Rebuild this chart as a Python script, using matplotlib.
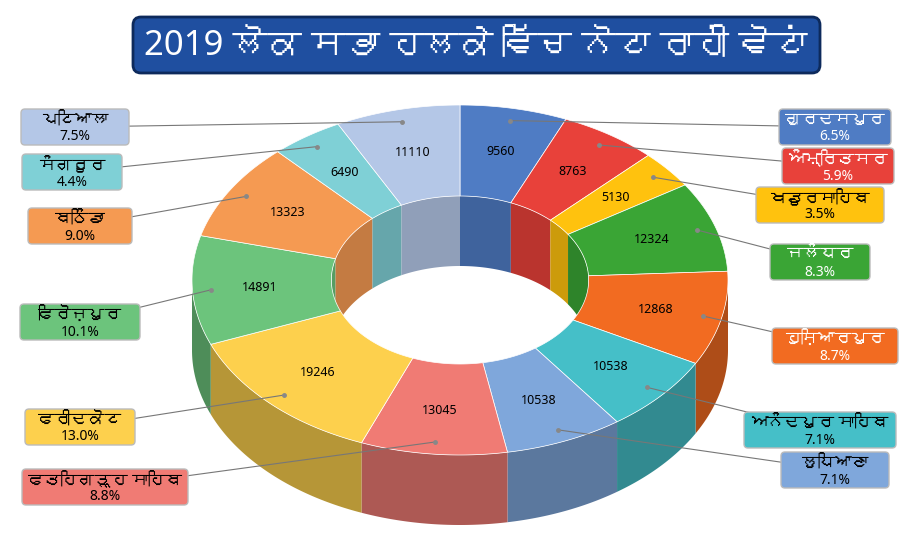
import numpy as np
import matplotlib.pyplot as plt
from matplotlib.patches import Polygon, FancyBboxPatch
import matplotlib.colors as mcolors
from matplotlib import font_manager
from matplotlib.ft2font import FT2Font

# look for any installed family that has Gurmukhi glyphs
gurmukhi = []
for f in font_manager.fontManager.ttflist:
    try:
        if 0x0A05 in FT2Font(f.fname).get_charmap() and f.name not in gurmukhi:
            gurmukhi.append(f.name)
    except Exception:
        pass
plt.rcParams['font.family'] = ['Noto Sans'] + gurmukhi + ['DejaVu Sans']

title = "2019 ਲੋਕ ਸਭਾ ਹਲਕੇ ਵਿੱਚ ਨੋਟਾ ਰਾਹੀਂ ਵੋਟਾਂ"
names = ["ਗੁਰਦਸਪੁਰ", "ਅੰਮ੍ਰਿਤਸਰ", "ਖਡੂਰਸਾਹਿਬ", "ਜਲੰਧਰ", "ਹੁਸ਼ਿਆਰਪੁਰ", "ਅਨੰਦਪੁਰ ਸਾਹਿਬ",
         "ਲੁਧਿਆਣਾ", "ਫਤਹਿਗੜ੍ਹ ਸਾਹਿਬ", "ਫਰੀਦਕੋਟ", "ਫਿਰੋਜ਼ਪੁਰ", "ਬਠਿੰਡਾ", "ਸੰਗਰੂਰ", "ਪਟਿਆਲਾ"]
votes = [9560, 8763, 5130, 12324, 12868, 10538, 10538, 13045, 19246, 14891, 13323, 6490, 11110]
percents = ["6.5%", "5.9%", "3.5%", "8.3%", "8.7%", "7.1%", "7.1%", "8.8%", "13.0%", "10.1%", "9.0%", "4.4%", "7.5%"]
colors = ["#4f7cc4", "#e8413a", "#ffc20e", "#3aa535", "#f26b21", "#45bfc8", "#7fa7db",
          "#f07b74", "#fdd04d", "#6cc47c", "#f59a52", "#7fd0d6", "#b4c7e7"]
# label box centres and widths (pixels)
box_pos = [(835, 127), (838, 166), (820, 205), (820, 262), (835, 346), (820, 430), (835, 470),
           (105, 487), (80, 427), (80, 322), (80, 226), (72, 172), (75, 127)]
box_w = [112, 112, 128, 100, 126, 152, 108, 166, 110, 120, 104, 100, 108]

W, H = 921, 553
fig = plt.figure(figsize=(W / 100, H / 100), dpi=100)
ax = fig.add_axes([0, 0, 1, 1])
ax.set_xlim(0, W)
ax.set_ylim(H, 0)
ax.axis('off')

cx, cy, rx, ry, inner, depth = 460, 280, 268, 175, 0.48, 70


def pt(r, a):
    return cx + r * rx * np.cos(a), cy - r * ry * np.sin(a)


def darker(c, f=0.72):
    r, g, b = mcolors.to_rgb(c)
    return (r * f, g * f, b * f)


total = sum(votes)
bounds = np.pi / 2 - 2 * np.pi * np.concatenate([[0], np.cumsum(votes)]) / total

# inner back walls
for i in range(len(votes)):
    t = np.linspace(bounds[i + 1], bounds[i], 60)
    t = t[np.sin(t) > 0]
    if len(t) < 2:
        continue
    top = [pt(inner, a) for a in t]
    bot = [(x, y + depth) for x, y in top[::-1]]
    ax.add_patch(Polygon(top + bot, closed=True, fc=darker(colors[i], 0.8), ec='none', zorder=1))

# outer front walls
for i in range(len(votes)):
    t = np.linspace(bounds[i + 1], bounds[i], 80)
    t = t[np.sin(t) < 0]
    if len(t) < 2:
        continue
    top = [pt(1, a) for a in t]
    bot = [(x, y + depth) for x, y in top[::-1]]
    ax.add_patch(Polygon(top + bot, closed=True, fc=darker(colors[i]), ec='none', zorder=2))

dark_text = (0, 1, 3, 4)
# top faces
for i in range(len(votes)):
    t = np.linspace(bounds[i + 1], bounds[i], 80)
    outer = [pt(1, a) for a in t]
    inn = [pt(inner, a) for a in t[::-1]]
    ax.add_patch(Polygon(outer + inn, closed=True, fc=colors[i], ec='white', lw=0.5, zorder=3))
    mid = (bounds[i] + bounds[i + 1]) / 2
    vx, vy = pt(0.75, mid)
    ax.text(vx, vy, str(votes[i]), ha='center', va='center', fontsize=9, zorder=5)
    ex, ey = pt(0.93, mid)
    bx, by = box_pos[i]
    ax.plot([ex, bx], [ey, by], color='#777777', lw=0.8, zorder=4)
    ax.plot(ex, ey, 'o', ms=2.5, color='#888888', zorder=5)
    w = box_w[i]
    ax.add_patch(FancyBboxPatch((bx - w / 2, by - 18), w, 36, boxstyle="round,pad=0,rounding_size=4",
                                fc=colors[i], ec='#bbbbbb', lw=1, zorder=6))
    tc = 'white' if i in dark_text else 'black'
    ax.text(bx, by - 7, names[i], ha='center', va='center', fontsize=12, fontweight='bold',
            color=tc, zorder=7)
    ax.text(bx, by + 10, percents[i], ha='center', va='center', fontsize=10, color=tc, zorder=7)

ax.add_patch(FancyBboxPatch((133, 17), 687, 56, boxstyle="round,pad=0,rounding_size=8",
                            fc='#1f4fa0', ec='#0d2a5c', lw=2, zorder=6))
ax.text(476, 45, title, ha='center', va='center', fontsize=25, fontweight='bold', color='white', zorder=7)

fig.savefig('out.png', dpi=100)
